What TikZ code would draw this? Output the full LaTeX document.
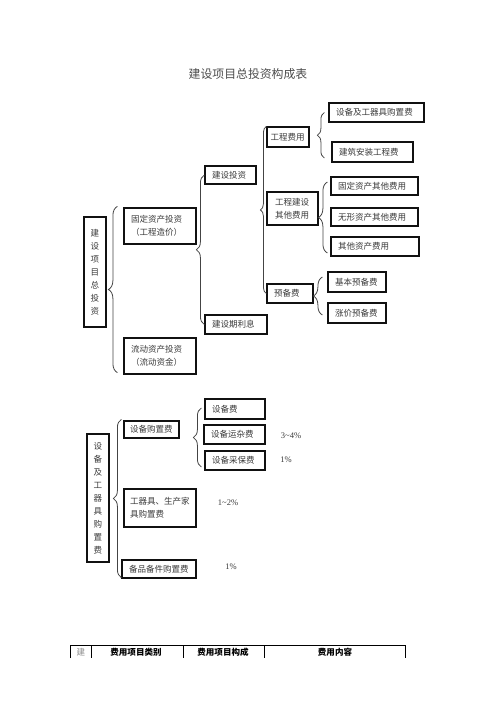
\documentclass[tikz,border=0pt]{standalone}
\usepackage{fontspec}
\setmainfont{Liberation Serif}
\newfontfamily\cjk{Noto Sans CJK SC}
\usetikzlibrary{calc,decorations.pathreplacing}
\definecolor{boxline}{HTML}{111111}
\definecolor{boxtext}{HTML}{3A3A3A}
\definecolor{braceline}{HTML}{444444}

\begin{document}
\begin{tikzpicture}[x=0.75pt,y=-0.75pt,font=\cjk\fontsize{6.4}{9.75}\selectfont,
 box/.style={draw=boxline,line width=0.9pt,text=boxtext,align=left,inner xsep=5.25pt,inner ysep=0pt},
 vbox/.style={draw=boxline,line width=0.9pt,text=boxtext,align=center,text width=16.5pt,inner xsep=0pt,inner ysep=0pt},
 brc/.style={draw=braceline,line width=0.6pt,decorate,decoration={brace,amplitude=#1}},
 brc/.default=6pt,
 pct/.style={text=boxtext,font=\fontsize{6.4}{8}\selectfont},
 head/.style={font=\cjk\bfseries\fontsize{6.4}{8}\selectfont}]
\useasboundingbox (0,0) rectangle (496,702);
\node[text=black!70,font=\cjk\fontsize{8.9}{10}\selectfont] (title) at (248,74) {建设项目总投资构成表};
% total investment tree
\node[vbox,minimum height=82.5pt] (total) at (95,272) {建\\设\\项\\目\\总\\投\\资};
\node[box,minimum height=27pt,text width=43.5pt] (fixed) at (160,226) {固定资产投资\\（工程造价）};
\node[box,minimum height=27pt,text width=43.5pt] (liquid) at (160,356) {流动资产投资\\（流动资金）};
\node[box,minimum height=13.5pt,text width=27.75pt] (cinv) at (230.5,175) {建设投资};
\node[box,minimum height=14.25pt,text width=36pt] (interest) at (236,324.5) {建设期利息};
\node[box,minimum height=15pt,text width=26.25pt,inner xsep=2.6pt] (eng) at (288,137) {工程费用};
\node[box,minimum height=24.75pt,text width=26.25pt,inner xsep=6pt] (other) at (292.5,208.5) {工程建设\\其他费用};
\node[box,minimum height=14.25pt,text width=24pt] (reserve) at (290,293.5) {预备费};
\node[box,minimum height=14.25pt,text width=60.75pt] (equip) at (376.5,112.5) {设备及工器具购置费};
\node[box,minimum height=15pt,text width=50.25pt] (build) at (372.5,152) {建筑安装工程费};
\node[box,minimum height=13.5pt,text width=54.75pt] (fixo) at (374.5,186) {固定资产其他费用};
\node[box,minimum height=13.5pt,text width=54.75pt] (intang) at (374.5,217) {无形资产其他费用};
\node[box,minimum height=14.25pt,text width=55.5pt] (otherasset) at (375,246.5) {其他资产费用};
\node[box,minimum height=15pt,text width=33pt] (basic) at (357,282) {基本预备费};
\node[box,minimum height=15pt,text width=33pt] (price) at (357,313) {涨价预备费};
\draw[brc=6.75pt] ($(liquid.south west)+(-6,-2)$) -- ($(fixed.north west)+(-6,-1)$);
\draw[brc] (interest.west) -- (interest.west |- cinv.west);
\draw[brc=4.5pt] (reserve.west) -- (reserve.west |- eng.north);
\draw[brc=5.25pt] ($(build.west)+(-7,6)$) -- ($(equip.west)+(-4,0)$);
\draw[brc=6.75pt] ($(otherasset.west)+(-3,6.5)$) -- ($(fixo.west)+(-3,-4)$);
\draw[brc=6.75pt] ($(price.west)+(-5,2)$) -- ($(basic.west)+(-5,-5)$);
% equipment purchase tree
\node[vbox,minimum height=96pt] (vequip) at (98,498) {设\\备\\及\\工\\器\\具\\购\\置\\费};
\node[box,minimum height=12.75pt,text width=32.25pt,inner xsep=4.5pt] (purch) at (151.5,429.5) {设备购置费};
\node[box,minimum height=28.5pt,text width=45pt,inner xsep=4.5pt] (tools) at (160,508) {工器具、生产家\\具购置费};
\node[box,minimum height=13.5pt,text width=45pt] (spare) at (159,569) {备品备件购置费};
\node[box,minimum height=15pt,text width=34.5pt] (eqfee) at (235,409) {设备费};
\node[box,minimum height=14.25pt,text width=35.25pt] (transport) at (234.5,434.5) {设备运杂费};
\node[box,minimum height=14.25pt,text width=34.5pt] (storage) at (235,460.5) {设备采保费};
\draw[brc] ($(spare.south west)+(0,-1)$) -- ($(purch.north west)+(-2,-1)$);
\draw[brc] ($(storage.west)+(-3,6.5)$) -- ($(eqfee.west)+(-3,-1)$);
\node[pct] (pctA) at (291,436) {3\textasciitilde4\%};
\node[pct] (pctB) at (286,460) {1\%};
\node[pct] (pctC) at (228,503) {1\textasciitilde2\%};
\node[pct] (pctD) at (231,567) {1\%};
% table head
\draw[line width=0.75pt] (70,658) -- (70,645) -- (405,645) -- (405,658);
\foreach \x in {91,183,264} \draw[line width=0.75pt] (\x,645) -- (\x,658);
\node[text=black!45] (colA) at (81,652) {建};
\node[head] (colB) at (136,652) {费用项目类别};
\node[head] (colC) at (223,652) {费用项目构成};
\node[head] (colD) at (335,652) {费用内容};
\end{tikzpicture}
\end{document}
